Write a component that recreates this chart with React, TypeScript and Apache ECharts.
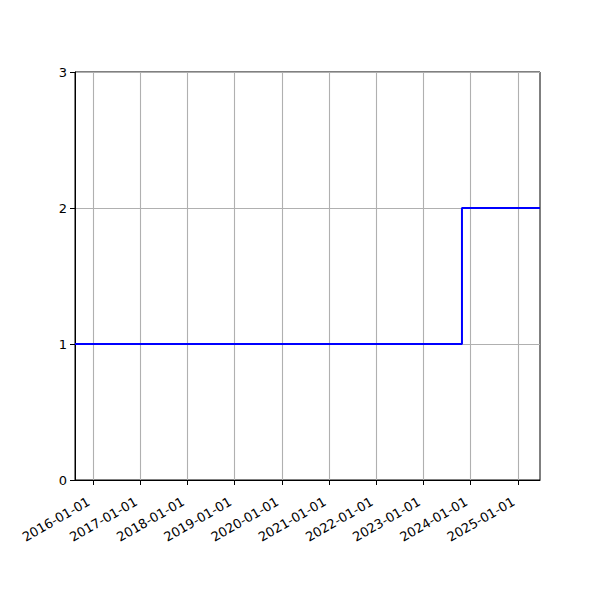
import React, { useEffect, useRef } from "react";
import * as echarts from "echarts";

const stepDates = ["2015-08-14", "2023-10-26", "2025-06-21"];
const stepValues = [1, 2, 2];
const xMin = "2015-08-14";
const xMax = "2025-06-21";
const tickDates = [
  "2016-01-01", "2017-01-01", "2018-01-01", "2019-01-01", "2020-01-01",
  "2021-01-01", "2022-01-01", "2023-01-01", "2024-01-01", "2025-01-01",
];
const yTicks = [0, 1, 2, 3];

const ts = (d: string) => Date.parse(d + "T00:00:00Z");

export default function App() {
  const ref = useRef<HTMLDivElement>(null);
  useEffect(() => {
    if (!ref.current) return;
    const chart = echarts.init(ref.current, null, { renderer: "svg" });
    const tickVals = tickDates.map(ts);
    const labelMap: Record<number, string> = {};
    tickDates.forEach((d) => (labelMap[ts(d)] = d));
    const font = "DejaVu Sans";
    chart.setOption({
      animation: false,
      backgroundColor: "#ffffff",
      grid: {
        left: 75,
        right: 60,
        top: 72,
        bottom: 120,
        show: true,
        borderColor: "#000000",
        borderWidth: 1,
        backgroundColor: "transparent",
        containLabel: false,
      },
      xAxis: {
        type: "value",
        min: ts(xMin),
        max: ts(xMax),
        axisLine: { show: true, onZero: false, lineStyle: { color: "#000", width: 1 } },
        axisTick: {
          show: true,
          length: 5,
          inside: false,
          customValues: tickVals,
          lineStyle: { color: "#000", width: 1 },
        },
        axisLabel: {
          customValues: tickVals,
          rotate: 30,
          margin: 18,
          padding: [0, 5, 0, 0],
          fontFamily: font,
          fontSize: 13,
          color: "#000",
          formatter: (v: number) => labelMap[v] || "",
        },
        splitLine: {
          show: true,
          customValues: tickVals,
          lineStyle: { color: "#b0b0b0", width: 1.1 },
        },
      },
      yAxis: {
        type: "value",
        min: yTicks[0],
        max: yTicks[yTicks.length - 1],
        interval: 1,
        axisLine: { show: true, lineStyle: { color: "#000", width: 1 } },
        axisTick: { show: true, length: 5, lineStyle: { color: "#000", width: 1 } },
        axisLabel: { margin: 8, fontFamily: font, fontSize: 13, color: "#000" },
        splitLine: { show: true, lineStyle: { color: "#b0b0b0", width: 1.1 } },
      },
      series: [
        {
          type: "line",
          step: "end",
          data: stepDates.map((d, i) => [ts(d), stepValues[i]]),
          showSymbol: false,
          lineStyle: { color: "#0000ff", width: 2 },
          itemStyle: { color: "#0000ff" },
          clip: true,
        },
      ],
    });
    return () => chart.dispose();
  }, []);
  return (
    <div
      ref={ref}
      style={{ position: "fixed", left: 0, top: 0, width: 600, height: 600, background: "#fff" }}
    />
  );
}
